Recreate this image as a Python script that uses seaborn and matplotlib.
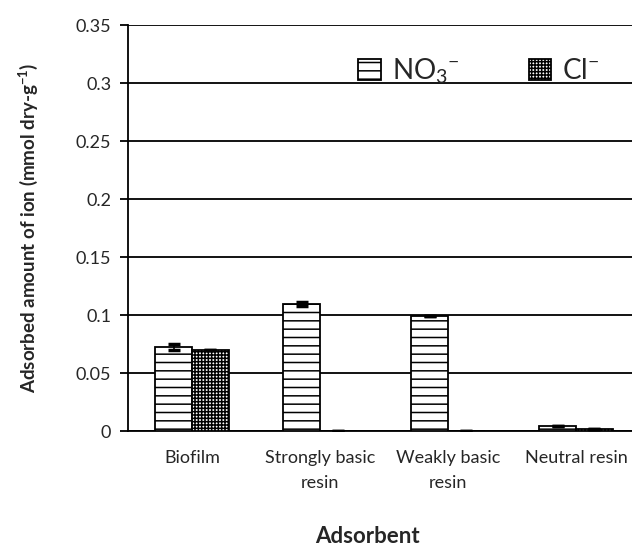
import pandas as pd
import seaborn as sns
import matplotlib.pyplot as plt
from matplotlib.ticker import FixedLocator

adsorbents = ["Biofilm", "Strongly basic\nresin", "Weakly basic\nresin", "Neutral resin"]
no3 = [0.0724, 0.1095, 0.0990, 0.0046]
cl = [0.0698, 0.0, 0.0, 0.0018]
no3_err = [0.0022, 0.0018, 0.0, 0.0]
cl_err = [0.0, 0.0, 0.0, 0.0]
ions = ["NO$_3$$^{-}$", "Cl$^{-}$"]
yticks = [0, 0.05, 0.1, 0.15, 0.2, 0.25, 0.3, 0.35]
ytick_labels = ["0", "0.05", "0.1", "0.15", "0.2", "0.25", "0.3", "0.35"]

df = pd.DataFrame({
    "Adsorbent": adsorbents * 2,
    "Ion": [ions[0]] * 4 + [ions[1]] * 4,
    "value": no3 + cl,
})

sns.set_style("white")
plt.rcParams["font.family"] = ["Lato", "DejaVu Sans"]
plt.rcParams["mathtext.fontset"] = "custom"
plt.rcParams["mathtext.rm"] = "Lato"
plt.rcParams["mathtext.it"] = "Lato"
plt.rcParams["mathtext.bf"] = "Lato:bold"
plt.rcParams["hatch.linewidth"] = 1.1

fig = plt.figure(figsize=(6.32, 5.48), dpi=100)
ax = fig.add_axes([128 / 632, 117 / 548, 512 / 632, 406 / 548])

sns.barplot(data=df, x="Adsorbent", y="value", hue="Ion", width=0.575,
            palette=["white", "white"], edgecolor="black", linewidth=1.3,
            legend=False, ax=ax, zorder=3)

hatches = ["--", "+++++"]
errs = [no3_err, cl_err]
for cont, h, e in zip(ax.containers, hatches, errs):
    xs = []
    for p in cont.patches:
        p.set_hatch(h)
        xs.append(p.get_x() + p.get_width() / 2)
    vals = [p.get_height() for p in cont.patches]
    ax.errorbar(xs, vals, yerr=e, fmt="none", ecolor="black",
                elinewidth=1.2, capsize=4, capthick=2.5, zorder=4)

ax.set_ylim(0, 0.35)
ax.set_xlim(-0.5, 3.5)
ax.set_yticks(yticks, ytick_labels)
ax.grid(axis="y", color="black", linewidth=1.3, zorder=0)
ax.set_axisbelow(True)
for s in ["top", "right"]:
    ax.spines[s].set_visible(False)
for s in ["left", "bottom"]:
    ax.spines[s].set_color("black")
    ax.spines[s].set_linewidth(1.3)

ax.xaxis.set_minor_locator(FixedLocator([0.5, 1.5, 2.5]))
ax.tick_params(axis="x", which="major", length=0, labelsize=13, pad=14)
ax.tick_params(axis="x", which="minor", length=6, width=1.3, color="black", direction="out")
ax.tick_params(axis="y", length=6, width=1.3, color="black", direction="out",
               labelsize=13, left=True, pad=6)
for t in ax.get_xticklabels():
    t.set_linespacing(1.65)

ax.set_xlabel("Adsorbent", fontsize=16, fontweight="bold")
ax.xaxis.label.set_verticalalignment("baseline")
ax.xaxis.set_label_coords((367 - 128) / 512, -0.277)
ax.set_ylabel("Adsorbed amount of ion (mmol dry-g$^{\\mathbf{-1}}$)", fontsize=13.5,
              fontweight="bold", labelpad=26)

ax.legend(handles=ax.containers[:2], labels=ions, loc="upper right",
          bbox_to_anchor=(0.97, 0.985), ncol=2, frameon=False, fontsize=20,
          handlelength=0.8, handleheight=0.8, handletextpad=0.4,
          columnspacing=2.5)

plt.savefig("out.png", dpi=100)
